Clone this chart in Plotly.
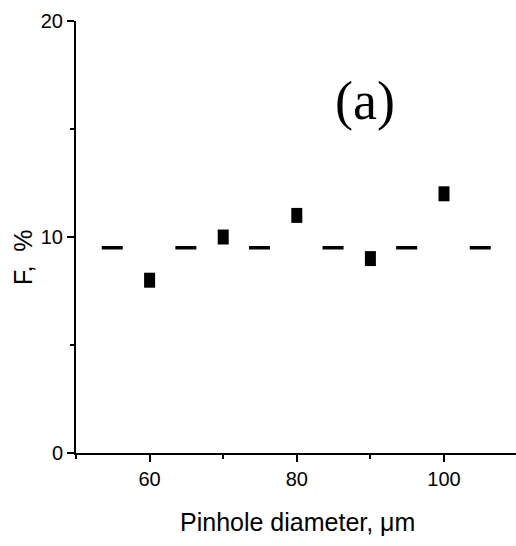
import plotly.graph_objects as go

# Data
diameters = [60, 70, 80, 90, 100]
f_values = [8, 10, 11, 9, 12]
ref_x = [53.5, 106.4]
ref_y = [9.5, 9.5]

x_ticks = [60, 80, 100]
y_ticks = [0, 10, 20]

W, H = 516, 546
L, R, T, B = 76, 0, 21, 93

fig = go.Figure()

fig.add_trace(go.Scatter(
    x=ref_x, y=ref_y, mode="lines",
    line=dict(color="black", width=3.5, dash="21px,52.6px"),
    hoverinfo="skip", showlegend=False,
))

fig.add_trace(go.Scatter(
    x=diameters, y=f_values, mode="markers",
    marker=dict(symbol="line-ns", size=10.7, color="black",
                line=dict(color="black", width=11)),
    showlegend=False,
))

tickfont = dict(family="Liberation Sans, Arial, sans-serif", size=20, color="black")

fig.update_xaxes(
    range=[50, 50 + (W - L - R) / 7.36], showline=True, linecolor="black", linewidth=2,
    showgrid=False, zeroline=False,
    tickmode="array", tickvals=x_ticks, ticktext=[str(v) for v in x_ticks],
    ticks="outside", ticklen=7, tickwidth=2, tickcolor="black",
    minor=dict(ticks="outside", ticklen=4, tickwidth=2, tickcolor="black", dtick=10, tick0=0, showgrid=False),
    tickfont=tickfont,
)
fig.update_yaxes(
    range=[0, 20], showline=True, linecolor="black", linewidth=2,
    showgrid=False, zeroline=False,
    tickmode="array", tickvals=y_ticks, ticktext=[str(v) for v in y_ticks],
    ticks="outside", ticklen=7, tickwidth=2, tickcolor="black",
    minor=dict(ticks="outside", ticklen=4, tickwidth=2, tickcolor="black", dtick=5, tick0=0, showgrid=False),
    tickfont=tickfont,
)

fig.add_annotation(
    x=89.3, y=16.3, xref="x", yref="y", text="(a)", showarrow=False,
    xanchor="center", yanchor="middle",
    font=dict(family="Liberation Serif, Times New Roman, serif", size=54, color="black"),
)
fig.add_annotation(
    x=0.503, y=(453 - 522) / 432, xref="paper", yref="paper",
    text="Pinhole diameter, μm", showarrow=False,
    xanchor="center", yanchor="middle",
    font=dict(family="Liberation Sans, Arial, sans-serif", size=25, color="black"),
)
fig.add_annotation(
    x=(23 - 76) / 440, y=(453 - 257) / 432, xref="paper", yref="paper",
    text="F,\u00a0\u00a0%", showarrow=False, textangle=-90,
    xanchor="center", yanchor="middle",
    font=dict(family="Liberation Sans, Arial, sans-serif", size=25, color="black"),
)

fig.update_layout(
    width=W, height=H,
    margin=dict(l=L, r=R, t=T, b=B, pad=0),
    paper_bgcolor="white", plot_bgcolor="white",
    showlegend=False,
)

fig.write_html("out.html")
